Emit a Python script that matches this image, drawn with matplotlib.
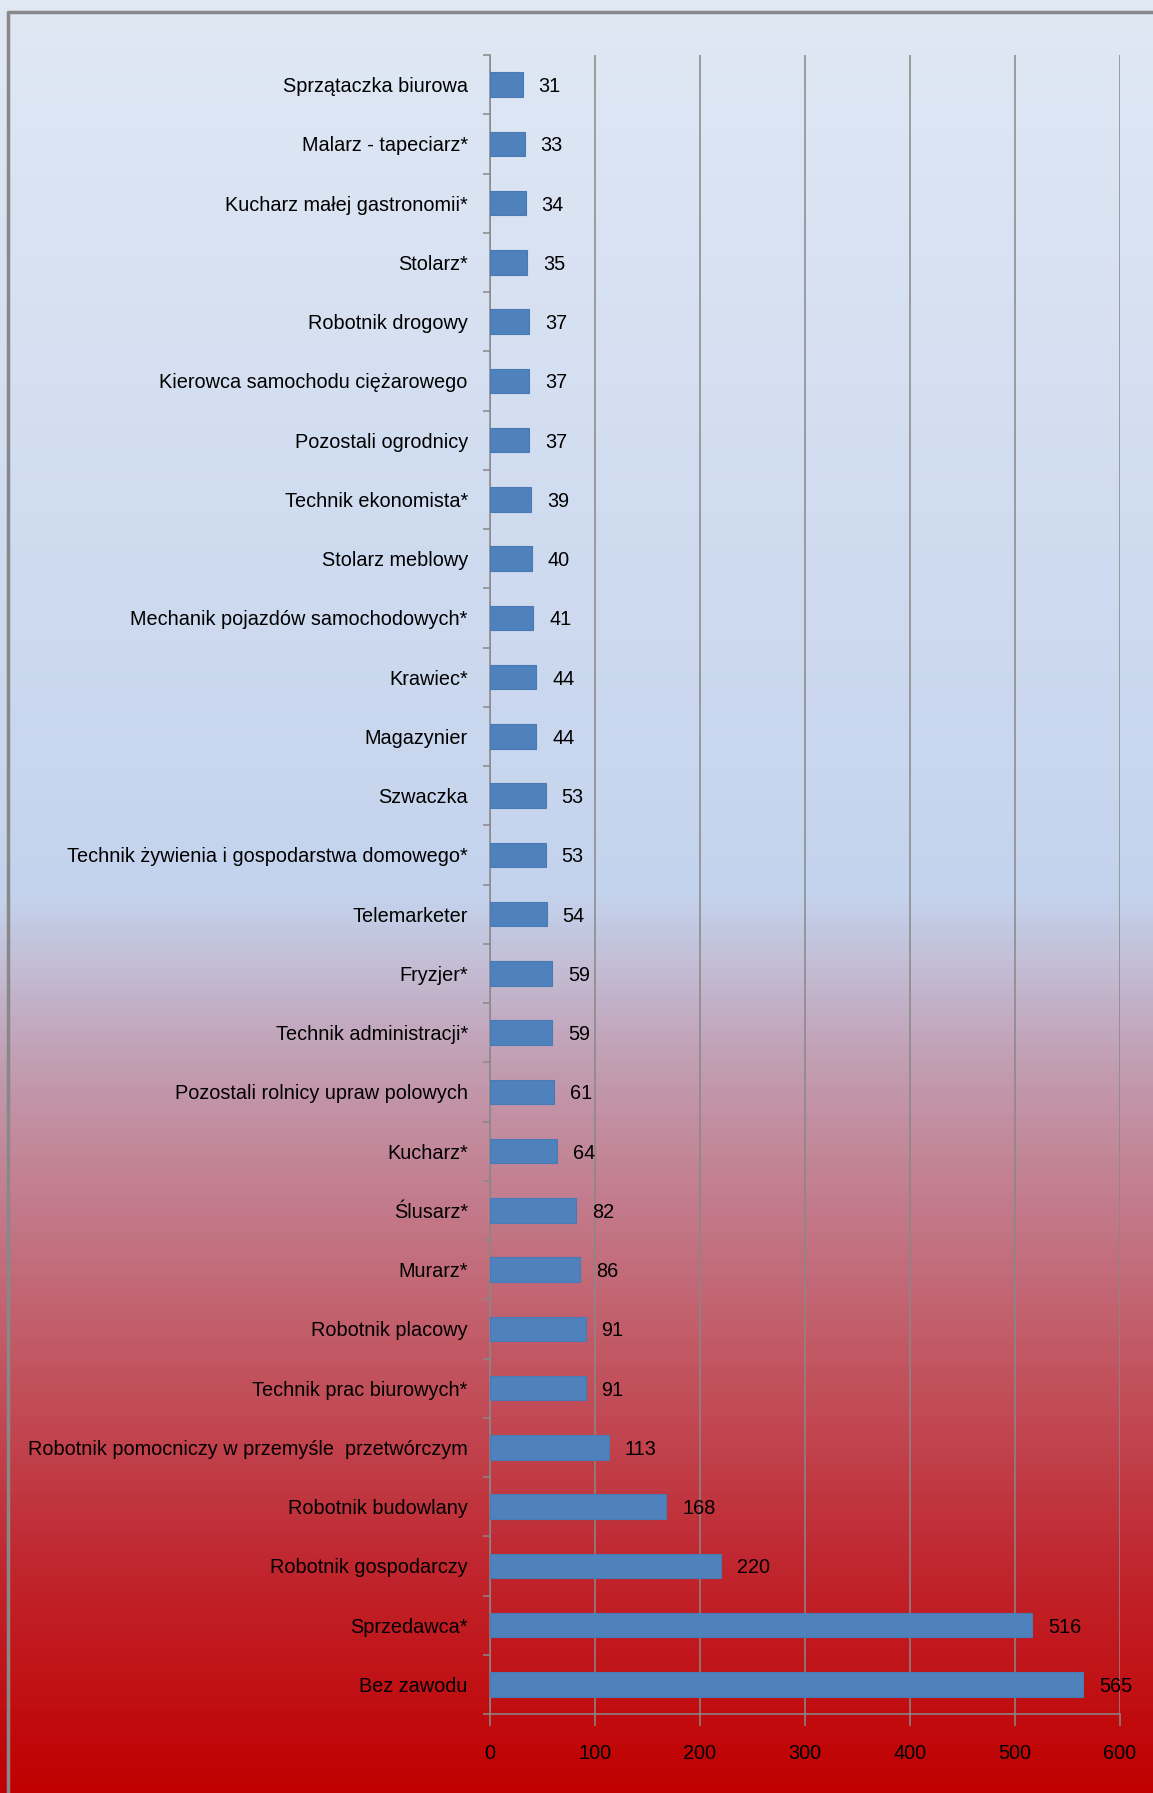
import numpy as np
import matplotlib.pyplot as plt
from matplotlib.colors import LinearSegmentedColormap

# Dane: zawody (od góry do dołu) i liczba bezrobotnych
zawody = [
    "Sprzątaczka biurowa",
    "Malarz - tapeciarz*",
    "Kucharz małej gastronomii*",
    "Stolarz*",
    "Robotnik drogowy",
    "Kierowca samochodu ciężarowego",
    "Pozostali ogrodnicy",
    "Technik ekonomista*",
    "Stolarz meblowy",
    "Mechanik pojazdów samochodowych*",
    "Krawiec*",
    "Magazynier",
    "Szwaczka",
    "Technik żywienia i gospodarstwa domowego*",
    "Telemarketer",
    "Fryzjer*",
    "Technik administracji*",
    "Pozostali rolnicy upraw polowych",
    "Kucharz*",
    "Ślusarz*",
    "Murarz*",
    "Robotnik placowy",
    "Technik prac biurowych*",
    "Robotnik pomocniczy w przemyśle  przetwórczym",
    "Robotnik budowlany",
    "Robotnik gospodarczy",
    "Sprzedawca*",
    "Bez zawodu",
]
liczby = [31, 33, 34, 35, 37, 37, 37, 39, 40, 41, 44, 44, 53, 53, 54,
          59, 59, 61, 64, 82, 86, 91, 91, 113, 168, 220, 516, 565]
osie_x = [0, 100, 200, 300, 400, 500, 600]

plt.rcParams['font.family'] = ['Liberation Sans', 'DejaVu Sans']
rozmiar = 14.3
szary = "#888888"

fig = plt.figure(figsize=(11.53, 17.93), dpi=100)

# Tło z gradientem (niebieski -> czerwony)
tlo = fig.add_axes([0, 0, 1, 1], zorder=0)
gradient = LinearSegmentedColormap.from_list("tlo", [
    (0.00, "#e0e8f4"),
    (0.50, "#c4d3ed"),
    (0.60, "#c29aae"),
    (0.75, "#c25a66"),
    (0.88, "#c0242c"),
    (1.00, "#c00000"),
])
tlo.imshow(np.linspace(0, 1, 512).reshape(-1, 1), aspect='auto', cmap=gradient,
           extent=[0, 1, 0, 1])
tlo.plot([8 / 1153, 8 / 1153, 1], [0, 1 - 12 / 1793, 1 - 12 / 1793],
         color=szary, lw=2.5)
tlo.set_xlim(0, 1)
tlo.set_ylim(0, 1)
tlo.axis('off')

# Wykres słupkowy
ax = fig.add_axes([490 / 1153, 1 - 1714 / 1793, 630 / 1153, (1714 - 55) / 1793], zorder=1)
ax.patch.set_alpha(0)
pozycje = np.arange(len(zawody))
ax.barh(pozycje, liczby, height=0.41, color="#4f81bd", edgecolor="#4a7ab3",
        linewidth=0.8, zorder=3)
for p, v in zip(pozycje, liczby):
    ax.text(v + 16 * 600 / 630, p, f"{v}", va='center_baseline', ha='left',
            fontsize=rozmiar, color="black", zorder=4)

ax.set_ylim(len(zawody) - 0.5, -0.5)
ax.set_xlim(0, 600)
ax.set_yticks(pozycje)
ax.set_yticklabels(zawody, fontsize=rozmiar)
ax.set_yticks(np.arange(-0.5, len(zawody), 1), minor=True)
ax.tick_params(axis='y', which='major', length=0, pad=16)
ax.tick_params(axis='y', which='minor', length=5, color=szary, width=1.1)
ax.set_xticks(osie_x)
ax.set_xticklabels([str(x) for x in osie_x], fontsize=rozmiar)
ax.tick_params(axis='x', length=8.6, color=szary, width=1.1, pad=13)

ax.grid(axis='x', color=szary, linewidth=1.1, zorder=1)
for strona in ['top', 'right']:
    ax.spines[strona].set_visible(False)
for strona in ['left', 'bottom']:
    ax.spines[strona].set_color(szary)
    ax.spines[strona].set_linewidth(1.1)

fig.savefig("out.png", dpi=100)
